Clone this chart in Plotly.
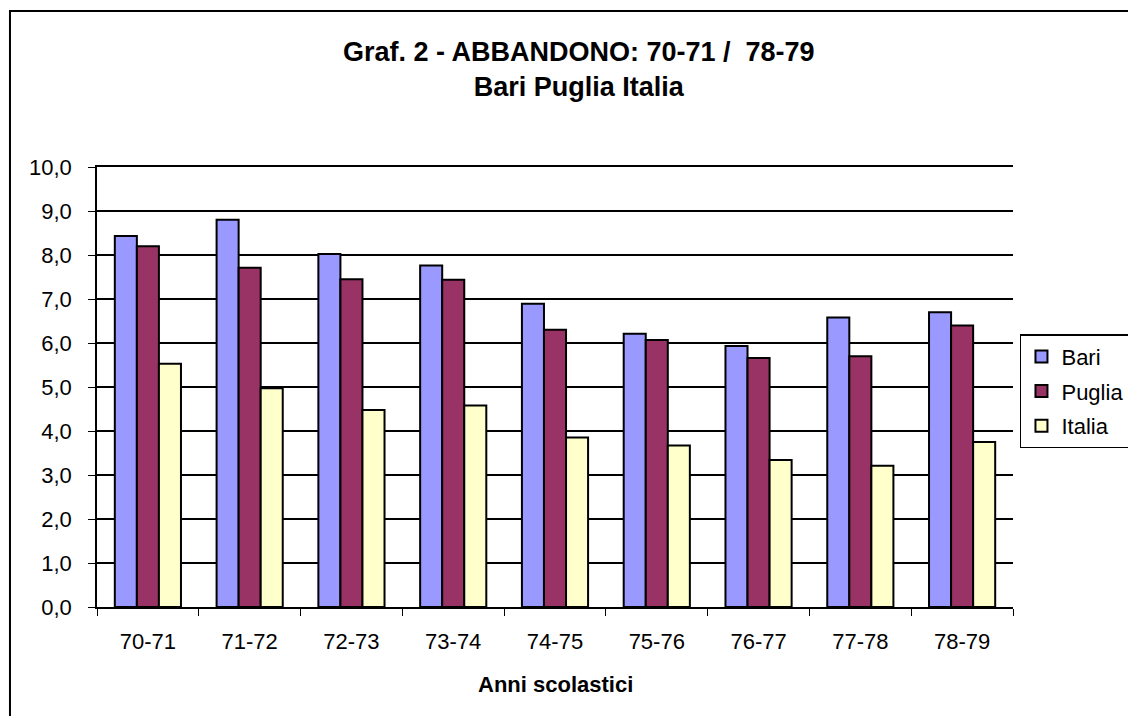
import plotly.graph_objects as go

anni = ["70-71", "71-72", "72-73", "73-74", "74-75", "75-76", "76-77", "77-78", "78-79"]
bari = [8.43, 8.80, 8.02, 7.76, 6.89, 6.21, 5.93, 6.58, 6.70]
puglia = [8.20, 7.71, 7.45, 7.44, 6.30, 6.07, 5.66, 5.70, 6.40]
italia = [5.53, 4.97, 4.48, 4.58, 3.85, 3.67, 3.34, 3.21, 3.75]

serie = [("Bari", bari, "#9999FF"),
         ("Puglia", puglia, "#993366"),
         ("Italia", italia, "#FFFFCC")]

FONT = "Liberation Sans, Arial, sans-serif"

fig = go.Figure()
for nome, valori, colore in serie:
    fig.add_trace(go.Bar(x=anni, y=valori, name=nome, legendgroup=nome,
                         marker=dict(color=colore,
                                     line=dict(color="black", width=2))))

# plot area: x 97..1013, y 167..607 (pixels); figure wider than window so the
# legend box is clipped at the right edge like the original
fig.update_layout(
    width=1160, height=716,
    margin=dict(l=97, r=147, t=167, b=109),
    paper_bgcolor="white", plot_bgcolor="white",
    separators=",.",
    font=dict(family=FONT, size=22, color="black"),
    barmode="group", bargap=0.35, bargroupgap=0,
    showlegend=True,
    legend=dict(x=1.0076, y=0.62, xanchor="left", yanchor="top",
                bordercolor="black", borderwidth=1.5,
                font=dict(size=22), itemwidth=30,
                traceorder="grouped", tracegroupgap=3),
)
fig.update_yaxes(range=[0, 10], dtick=1, tickformat=".1f",
                 showgrid=True, gridcolor="black", gridwidth=1.5,
                 showline=True, linecolor="black", linewidth=1.5,
                 ticks="outside", ticklen=7, tickcolor="black",
                 ticklabelstandoff=12, zeroline=False)
# mirror gives the top line at 10,0
fig.update_xaxes(showline=True, linecolor="black", linewidth=1.5, mirror=True,
                 ticks="outside", ticklen=7, tickcolor="black",
                 tickson="boundaries", ticklabelstandoff=14)

fig.add_annotation(text="<b>Graf. 2 - ABBANDONO: 70-71 /  78-79<br>Bari Puglia Italia</b>",
                   xref="paper", yref="paper", x=0.526, y=1.2216,
                   xanchor="center", yanchor="middle", showarrow=False,
                   font=dict(size=27, family=FONT))
fig.add_annotation(text="<b>Anni scolastici</b>",
                   xref="paper", yref="paper", x=0.501, y=-0.175,
                   xanchor="center", yanchor="middle", showarrow=False,
                   font=dict(size=22, family=FONT))

# outer chart border
fig.add_shape(type="rect", xref="paper", yref="paper",
              x0=-0.095, x1=1.2, y0=-0.3, y1=1.3545,
              line=dict(color="black", width=2))

fig.write_html("out.html",
               config={"displayModeBar": False},
               post_script="document.body.style.margin='0';"
                           "document.body.style.overflow='hidden';")
